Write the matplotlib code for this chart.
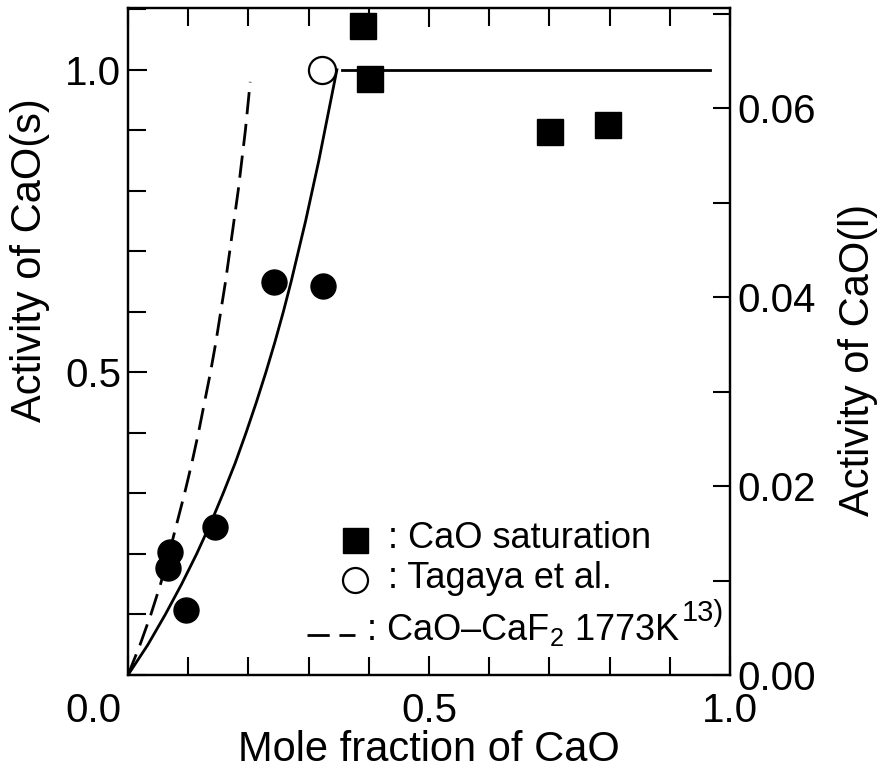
import matplotlib
matplotlib.use("Agg")
import matplotlib.pyplot as plt
from matplotlib.ticker import FixedLocator, FixedFormatter, MultipleLocator
import matplotlib.transforms as mtransforms

plt.rcParams['font.family'] = ['Liberation Sans', 'DejaVu Sans']
plt.rcParams['mathtext.fontset'] = 'custom'
plt.rcParams['mathtext.rm'] = 'Liberation Sans'
plt.rcParams['mathtext.it'] = 'Liberation Sans:italic'

# Measured CaO activity (solid CaO standard), filled circles
x_meas = [0.070, 0.066, 0.096, 0.145, 0.243, 0.324]
a_meas = [0.204, 0.177, 0.108, 0.245, 0.649, 0.642]

# CaO-saturated compositions, filled squares
x_sat = [0.390, 0.402, 0.701, 0.797]
a_sat = [1.073, 0.985, 0.897, 0.909]

# Literature value (Tagaya et al.), open circle
x_tag = [0.322]
a_tag = [1.000]

# Smoothed activity curve and saturation plateau
x_fit = [0.0, 0.033, 0.062, 0.089, 0.114, 0.137, 0.158, 0.178, 0.196, 0.213,
         0.229, 0.244, 0.258, 0.271, 0.283, 0.295, 0.306, 0.317, 0.327, 0.337,
         0.347]
a_fit = [0.0, 0.05, 0.10, 0.15, 0.20, 0.25, 0.30, 0.35, 0.40, 0.45, 0.50,
         0.55, 0.60, 0.65, 0.70, 0.75, 0.80, 0.85, 0.90, 0.95, 1.00]
x_plateau = [0.355, 0.967]
a_plateau = [1.0, 1.0]

# CaO-CaF2 binary at 1773 K (ref. 13), dashed
x_bin = [0.0, 0.020, 0.038, 0.054, 0.068, 0.081, 0.094, 0.106, 0.117, 0.127,
         0.137, 0.146, 0.154, 0.162, 0.169, 0.176, 0.183, 0.189, 0.195, 0.200,
         0.203]
a_bin = [0.0, 0.05, 0.10, 0.15, 0.20, 0.25, 0.30, 0.35, 0.40, 0.45, 0.50,
         0.55, 0.60, 0.65, 0.70, 0.75, 0.80, 0.85, 0.90, 0.95, 0.98]

x_ticks_major = [0.0, 0.5, 1.0]
x_tick_labels = ['0.0', '0.5', '1.0']
y_ticks_major = [0.5, 1.0]
y_tick_labels = ['0.5', '1.0']
y2_ticks_major = [0.00, 0.02, 0.04, 0.06]
y2_tick_labels = ['0.00', '0.02', '0.04', '0.06']

W, H = 886, 769
fig = plt.figure(figsize=(W / 100, H / 100), dpi=100)
ax = fig.add_axes([128 / W, 94 / H, 602 / W, 667 / H])
ax.set_xlim(0, 1.0)
ax.set_ylim(0, 1.102)

ax2 = ax.twinx()
ax2.set_ylim(0, 0.0706)

for a in (ax, ax2):
    for s in a.spines.values():
        s.set_linewidth(1.6)

dash = (0, (8, 3.5))
ax.plot(x_bin, a_bin, color='black', lw=2.0, linestyle=dash)
ax.plot(x_fit, a_fit, color='black', lw=2.0)
ax.plot(x_plateau, a_plateau, color='black', lw=2.0)
ax.plot(x_meas, a_meas, 'o', color='black', ms=18, mec='black')
ax.plot(x_sat, a_sat, 's', color='black', ms=19, mec='black')
ax.plot(x_tag, a_tag, 'o', mfc='white', mec='black', mew=1.6, ms=19.5)

# ticks
ax.xaxis.set_major_locator(FixedLocator(x_ticks_major))
ax.xaxis.set_major_formatter(FixedFormatter(x_tick_labels))
ax.xaxis.set_minor_locator(MultipleLocator(0.1))
ax.yaxis.set_major_locator(FixedLocator(y_ticks_major))
ax.yaxis.set_major_formatter(FixedFormatter(y_tick_labels))
ax.yaxis.set_minor_locator(MultipleLocator(0.1))
ax.tick_params(axis='both', which='both', direction='in', top=True, right=False,
               width=1.5, labelsize=29)
ax.tick_params(axis='both', which='major', length=14)
ax.tick_params(axis='both', which='minor', length=13)
ax.tick_params(axis='x', which='major', pad=12)
ax.tick_params(axis='y', which='major', pad=5)

ax2.yaxis.set_major_locator(FixedLocator(y2_ticks_major))
ax2.yaxis.set_major_formatter(FixedFormatter(y2_tick_labels))
ax2.yaxis.set_minor_locator(MultipleLocator(0.01))
ax2.tick_params(axis='y', which='both', direction='in', length=12, width=1.5,
                labelsize=29, pad=5)

fig.canvas.draw()
lbl0 = ax.get_xticklabels()[0]
lbl0.set_horizontalalignment('right')
lbl0.set_transform(lbl0.get_transform() +
                   mtransforms.ScaledTranslation(-6 / 100, 0, fig.dpi_scale_trans))

ax.set_xlabel('Mole fraction of CaO', fontsize=30, labelpad=0)
ax.set_ylabel('Activity of CaO(s)', fontsize=30)
ax.yaxis.set_label_coords((50 - 128) / 602, 0.622)
ax2.set_ylabel('Activity of CaO(l)', fontsize=30)
ax2.yaxis.set_label_coords((838 - 128) / 602, 0.472)

# key
ax.plot([0.377], [0.2024], 's', color='black', ms=18, transform=ax.transAxes,
        clip_on=False)
ax.text(0.432, 0.205, ': CaO saturation', fontsize=26, va='center', ha='left',
        transform=ax.transAxes)
ax.plot([0.377], [0.142], 'o', mfc='white', mec='black', mew=1.6, ms=18,
        transform=ax.transAxes, clip_on=False)
ax.text(0.432, 0.145, ': Tagaya et al.', fontsize=26, va='center', ha='left',
        transform=ax.transAxes)
ax.plot([0.297, 0.377], [0.060, 0.060], color='black', lw=2.0, linestyle=dash,
        transform=ax.transAxes)
ax.text(0.395, 0.0675, ': CaO\u2013CaF$_2$ 1773K', fontsize=26, va='center',
        ha='left', transform=ax.transAxes)
ax.text(0.920, 0.093, '13)', fontsize=21, va='center', ha='left',
        transform=ax.transAxes)

fig.savefig('out.png', dpi=100)
